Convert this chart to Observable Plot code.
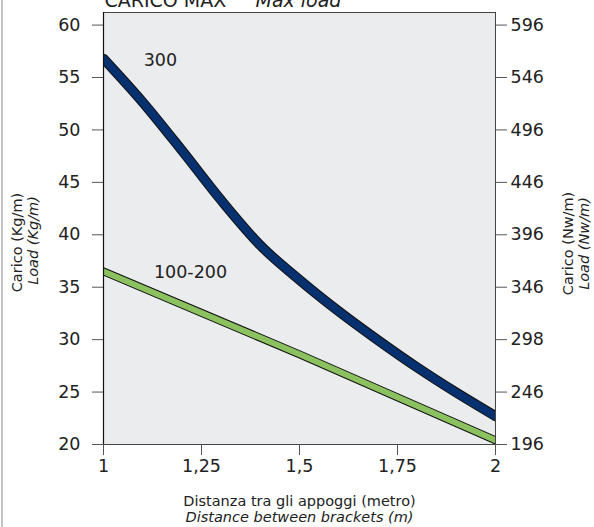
<!DOCTYPE html>
<html><head><meta charset="utf-8">
<script src="https://cdn.jsdelivr.net/npm/d3@7"></script>
<script src="https://cdn.jsdelivr.net/npm/@observablehq/plot@0.6"></script>
<style>
html,body{margin:0;padding:0;background:#fff;}
#wrap{position:relative;width:594px;height:527px;overflow:hidden;}
#edge{position:absolute;left:1px;top:0;width:2px;height:527px;background:#c4c4c4;z-index:2;}
#wrap svg{position:absolute;left:0;top:0;}
</style></head><body><div id="wrap"><div id="edge"></div></div>
<script>
// Series "300"
const distance300 = [1, 1.1, 1.2, 1.3, 1.4, 1.5, 1.6, 1.7, 1.8, 1.9, 2];
const load300 = [56.8, 52.65, 48.05, 43.3, 39.0, 35.7, 32.7, 29.95, 27.35, 24.95, 22.7];
// Series "100-200"
const distance100 = [1, 1.5, 2];
const load100 = [36.5, 28.6, 20.4];
// Ticks
const yTicks = [20, 25, 30, 35, 40, 45, 50, 55, 60];
const yRightLabels = ["196", "246", "298", "346", "396", "446", "496", "546", "596"];
const xTicks = [1, 1.25, 1.5, 1.75, 2];
const xTickLabels = ["1", "1,25", "1,5", "1,75", "2"];
// Series labels
const seriesNames = ["300", "100-200"];
const seriesLabelX = [1.145, 1.222];
const seriesLabelY = [56.6, 36.45];

const s300 = distance300.map((d, i) => ({x: d, y: load300[i]}));
const s100 = distance100.map((d, i) => ({x: d, y: load100[i]}));
const labels = seriesNames.map((n, i) => ({name: n, x: seriesLabelX[i], y: seriesLabelY[i]}));

const font = "'DejaVu Sans', Verdana, sans-serif";
const tickFont = 17.5;
const titleFont = 14.5;
const chart = Plot.plot({
  width: 594, height: 527,
  marginLeft: 103, marginRight: 99, marginTop: 12, marginBottom: 83,
  style: {fontFamily: font, fontSize: "16px", color: "#222", background: "transparent", overflow: "visible"},
  x: {domain: [1, 2]},
  y: {domain: [20, 61.2]},
  marks: [
    Plot.frame({fill: "#ebeced", stroke: null}),
    Plot.line(s300, {x: "x", y: "y", stroke: "#111", strokeWidth: 10, curve: "monotone-x", clip: true}),
    Plot.line(s300, {x: "x", y: "y", stroke: "#06316e", strokeWidth: 8, curve: "monotone-x", clip: true}),
    Plot.line(s100, {x: "x", y: "y", stroke: "#111", strokeWidth: 8, curve: "linear", clip: true}),
    Plot.line(s100, {x: "x", y: "y", stroke: "#8cc160", strokeWidth: 6, curve: "linear", clip: true}),
    Plot.text(labels, {x: "x", y: "y", text: "name", fontSize: tickFont, fill: "#222"}),
    Plot.frame({stroke: "#444", strokeWidth: 1}),
    Plot.axisY({ticks: yTicks, anchor: "left", tickSize: 11, tickPadding: 12, label: null, fontSize: tickFont, stroke: "#555", fill: "#222"}),
    Plot.axisY({ticks: yTicks, anchor: "right", tickSize: 11, tickPadding: 4, label: null, fontSize: tickFont, stroke: "#555", fill: "#222",
      tickFormat: d => yRightLabels[yTicks.indexOf(d)]}),
    Plot.axisX({ticks: xTicks, anchor: "bottom", tickSize: 11, tickPadding: 4, label: null, fontSize: tickFont, stroke: "#555", fill: "#222",
      tickFormat: d => xTickLabels[xTicks.indexOf(d)]}),
    Plot.ruleX([1], {stroke: "#111", strokeWidth: 1.2}),
    // Axis titles
    Plot.text(["Carico (Kg/m)"], {text: d => d, frameAnchor: "left", textAnchor: "middle", dx: -86, dy: 14, rotate: -90, fontSize: titleFont, fill: "#222"}),
    Plot.text(["Load (Kg/m)"], {text: d => d, frameAnchor: "left", textAnchor: "middle", dx: -70, dy: 12, rotate: -90, fontSize: titleFont, fontStyle: "italic", fill: "#222"}),
    Plot.text(["Carico (Nw/m)"], {text: d => d, frameAnchor: "right", textAnchor: "middle", dx: 73, dy: 15, rotate: -90, fontSize: titleFont, fill: "#222"}),
    Plot.text(["Load (Nw/m)"], {text: d => d, frameAnchor: "right", textAnchor: "middle", dx: 89, dy: 15, rotate: -90, fontSize: titleFont, fontStyle: "italic", fill: "#222"}),
    Plot.text(["Distanza tra gli appoggi (metro)"], {text: d => d, frameAnchor: "bottom", dy: 61, fontSize: titleFont, fill: "#222"}),
    Plot.text(["Distance between brackets (m)"], {text: d => d, frameAnchor: "bottom", dy: 77, fontSize: titleFont, fontStyle: "italic", fill: "#222"}),
    // Title (cut at top, as in the reference)
    Plot.text(["CARICO MAX"], {text: d => d, frameAnchor: "top-left", dx: 1, dy: -19, textAnchor: "start", fontSize: 19, fill: "#222"}),
    Plot.text(["Max load"], {text: d => d, frameAnchor: "top-left", dx: 152, dy: -19, textAnchor: "start", fontSize: 19, fontStyle: "italic", fill: "#222"})
  ]
});
document.getElementById("wrap").appendChild(chart);
</script>
</body></html>
